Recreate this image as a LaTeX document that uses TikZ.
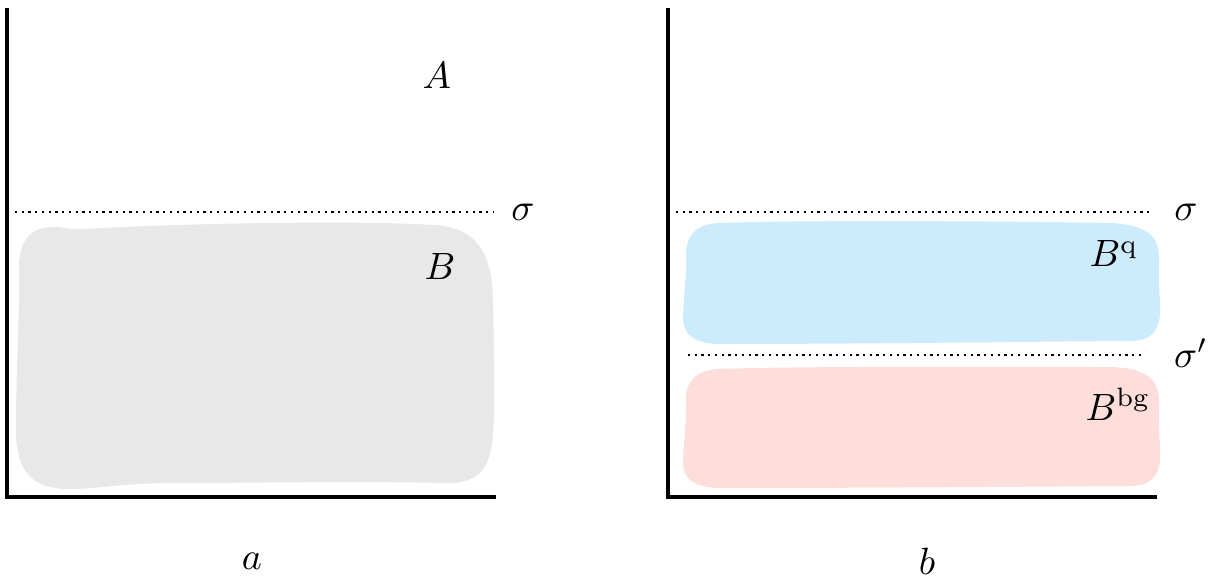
\documentclass[tikz,border=0pt]{standalone}
\definecolor{blobgrey}{RGB}{232,232,232}
\definecolor{blobblue}{RGB}{204,235,252}
\definecolor{blobred}{RGB}{253,222,218}
\tikzset{
  axisline/.style={line width=0.9pt},
  sepline/.style={line width=0.6pt, dash pattern=on 0.6pt off 1.17pt},
  lbl/.style={inner sep=0pt},
  blob/.style={draw=none}
}
\begin{document}
\begin{tikzpicture}[x=0.263pt,y=-0.263pt]
\useasboundingbox (0,0) rectangle (1210,575);
% panel a
\fill[blobgrey] (50,227) .. controls (62,226) and (68,230) .. (85,229)
  .. controls (130,226) and (200,224) .. (270,223)
  .. controls (350,222) and (400,223) .. (435,225)
  .. controls (475,228) and (492,250) .. (493,300)
  .. controls (494,360) and (495,410) .. (493,435)
  .. controls (490,470) and (478,484) .. (445,483)
  .. controls (350,481) and (250,483) .. (180,483)
  .. controls (120,483) and (100,489) .. (70,489)
  .. controls (30,489) and (15,470) .. (16,425)
  .. controls (16,370) and (20,310) .. (19,270)
  .. controls (18,242) and (30,228) .. (50,227) -- cycle;
\coordinate (atop) at (7,8);
\coordinate (aorig) at (7,497);
\coordinate (aend) at (496,497);
\draw[axisline] (atop) -- (aorig) -- (aend);
\coordinate (sa1) at (15,212);
\coordinate (sa2) at (493,212);
\draw[sepline] (sa1) -- (sa2);
\node[lbl] (labA) at (437,76) {$A$};
\node[lbl] (labB) at (440,267) {$B$};
\node[lbl] (sigA) at (523,212) {$\sigma$};
\node[lbl] (capA) at (252,561) {$a$};
% panel b
\fill[blobblue] (718,223) .. controls (800,220) and (1000,221) .. (1110,223)
  .. controls (1148,225) and (1160,236) .. (1159,262)
  .. controls (1158,290) and (1161,305) .. (1160,315)
  .. controls (1158,335) and (1148,342) .. (1122,341)
  .. controls (1000,342) and (850,344) .. (722,344)
  .. controls (695,344) and (683,335) .. (683,318)
  .. controls (684,290) and (687,275) .. (686,255)
  .. controls (686,234) and (698,224) .. (718,223) -- cycle;
\fill[blobred] (718,369) .. controls (800,366) and (1000,367) .. (1110,367)
  .. controls (1148,368) and (1160,380) .. (1159,405)
  .. controls (1158,430) and (1161,450) .. (1160,460)
  .. controls (1158,480) and (1148,487) .. (1122,486)
  .. controls (1000,487) and (850,488) .. (722,488)
  .. controls (695,488) and (683,480) .. (683,462)
  .. controls (684,435) and (687,415) .. (686,398)
  .. controls (686,380) and (698,370) .. (718,369) -- cycle;
\coordinate (btop) at (668,8);
\coordinate (borig) at (668,497);
\coordinate (bend) at (1157,497);
\draw[axisline] (btop) -- (borig) -- (bend);
\coordinate (sb1) at (676,212);
\coordinate (sb2) at (1152,212);
\draw[sepline] (sb1) -- (sb2);
\coordinate (sc1) at (688,355);
\coordinate (sc2) at (1142,355);
\draw[sepline] (sc1) -- (sc2);
\node[lbl] (sigB) at (1186,212) {$\sigma$};
\node[lbl] (sigBp) at (1191,353) {$\sigma'$};
\node[lbl] (labBq) at (1114,254) {$B^{\mathrm{q}}$};
\node[lbl] (labBbg) at (1118,404) {$B^{\mathrm{bg}}$};
\node[lbl] (capB) at (927,561) {$b$};
\end{tikzpicture}
\end{document}
